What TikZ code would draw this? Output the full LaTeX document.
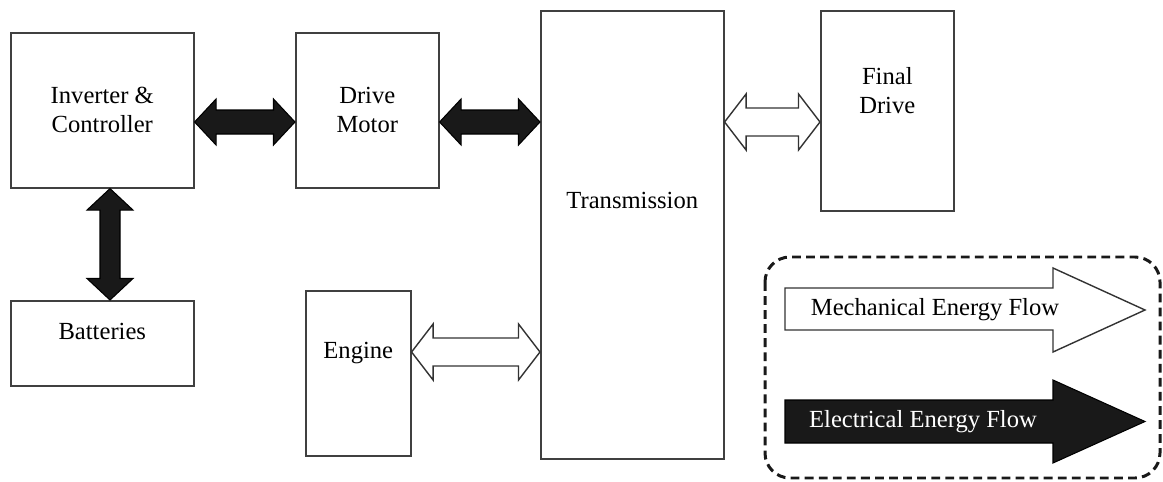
\documentclass[tikz,border=0pt]{standalone}
\usepackage{fontspec}
\setmainfont{Liberation Serif}
\usepackage{tikz}
\usetikzlibrary{calc}

\tikzset{
  box/.style={draw=black!75, line width=0.9pt, anchor=north west, inner sep=0pt},
  lbl/.style={align=center, font=\fontsize{14}{16.5}\selectfont},
  elec/.style={fill=black!90, draw=black, line width=0.6pt},
  mech/.style={fill=white, draw=black!80, line width=0.8pt}
}

\def\arhead{0.43cm}

% horizontal double arrow: style, left point, right point, shaft half, head half
\newcommand{\harrow}[5]{%
  \draw[#1] let \p1=(#2), \p2=(#3) in
    (\x1,\y1) -- ++(\arhead,#5) -- ++(0,#4-#5) -- (\x2-\arhead,\y1+#4)
    -- ++(0,#5-#4) -- (\x2,\y1) -- ++(-\arhead,-#5) -- ++(0,#5-#4)
    -- (\x1+\arhead,\y1-#4) -- ++(0,#4-#5) -- cycle;}

% vertical double arrow: style, top point, bottom point, shaft half, head half
\newcommand{\varrow}[5]{%
  \draw[#1] let \p1=(#2), \p2=(#3) in
    (\x1,\y1) -- ++(#5,-\arhead) -- ++(#4-#5,0) -- (\x1+#4,\y2+\arhead)
    -- ++(#5-#4,0) -- (\x1,\y2) -- ++(-#5,\arhead) -- ++(#5-#4,0)
    -- (\x1-#4,\y1-\arhead) -- ++(#4-#5,0) -- cycle;}

\begin{document}
\begin{tikzpicture}
\useasboundingbox (0,0) rectangle (23.26,-9.64);

% blocks
\node[box, minimum width=3.66cm, minimum height=3.1cm,
  label={[lbl]center:Inverter \&\\Controller}] (inv) at (0.2,-0.64) {};
\node[box, minimum width=2.86cm, minimum height=3.1cm,
  label={[lbl]center:Drive\\Motor}] (mot) at (5.9,-0.64) {};
\node[box, minimum width=3.66cm, minimum height=8.96cm,
  label={[lbl,yshift=0.68cm]center:Transmission}] (trans) at (10.8,-0.2) {};
\node[box, minimum width=2.66cm, minimum height=4.0cm,
  label={[lbl,yshift=0.4cm]center:Final\\Drive}] (fin) at (16.4,-0.2) {};
\node[box, minimum width=3.66cm, minimum height=1.7cm,
  label={[lbl,yshift=0.24cm]center:Batteries}] (bat) at (0.2,-6.0) {};
\node[box, minimum width=2.1cm, minimum height=3.3cm,
  label={[lbl,yshift=0.4cm]center:Engine}] (eng) at (6.1,-5.8) {};

\coordinate (row1) at (0,-2.44);
\coordinate (row2) at (0,-7.04);
\coordinate (col1) at (2.2,0);

% energy flows
\harrow{elec}{inv.east |- row1}{mot.west |- row1}{0.24cm}{0.46cm}
\harrow{elec}{mot.east |- row1}{trans.west |- row1}{0.24cm}{0.46cm}
\harrow{mech}{trans.east |- row1}{fin.west |- row1}{0.28cm}{0.56cm}
\harrow{mech}{eng.east |- row2}{trans.west |- row2}{0.28cm}{0.56cm}
\varrow{elec}{inv.south -| col1}{bat.north -| col1}{0.2cm}{0.46cm}

% legend
\draw[black!90, line width=1.7pt, dash pattern=on 5pt off 3pt, rounded corners=0.5cm]
  (15.3,-5.14) rectangle (23.2,-9.56);
\draw[mech] (15.7,-5.76) -- (21.06,-5.76) -- (21.06,-5.36) -- (22.9,-6.2)
  -- (21.06,-7.04) -- (21.06,-6.6) -- (15.7,-6.6) -- cycle;
\draw[elec] (15.7,-8.0) -- (21.06,-8.0) -- (21.06,-7.6) -- (22.9,-8.43)
  -- (21.06,-9.26) -- (21.06,-8.86) -- (15.7,-8.86) -- cycle;
\node[lbl] (mechtxt) at (18.7,-6.2) {Mechanical Energy Flow};
\node[lbl, text=white] (electxt) at (18.46,-8.43) {Electrical Energy Flow};
\end{tikzpicture}
\end{document}
